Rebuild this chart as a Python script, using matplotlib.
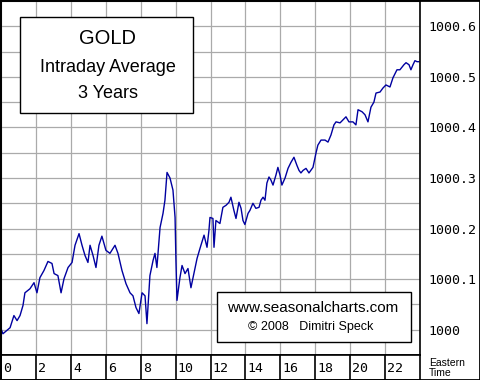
import matplotlib
matplotlib.use('Agg')
import matplotlib.pyplot as plt
from matplotlib.patches import Rectangle

# Gold, average intraday course over 3 years (Eastern Time)
hours = [0.00, 0.11, 0.52, 0.74, 0.92, 1.09, 1.26, 1.37, 1.66, 1.89,
         2.06, 2.23, 2.46, 2.69, 2.92, 3.04, 3.26, 3.44, 3.61, 3.84,
         4.07, 4.24, 4.47, 4.64, 4.81, 4.98, 5.10, 5.27, 5.44, 5.61,
         5.78, 6.01, 6.24, 6.53, 6.70, 6.93, 7.16, 7.39, 7.56, 7.73,
         7.90, 8.08, 8.25, 8.36, 8.53, 8.71, 8.82, 8.93, 9.11, 9.28,
         9.39, 9.51, 9.68, 9.85, 9.97, 10.02, 10.08, 10.25, 10.37, 10.54,
         10.71, 10.88, 11.05, 11.23, 11.40, 11.63, 11.80, 11.91, 11.97, 12.14,
         12.20, 12.31, 12.54, 12.71, 12.89, 13.06, 13.17, 13.34, 13.46, 13.63,
         13.75, 13.86, 13.97, 14.15, 14.26, 14.43, 14.60, 14.78, 14.89, 15.01,
         15.12, 15.23, 15.35, 15.46, 15.58, 15.75, 15.86, 15.98, 16.09, 16.27,
         16.44, 16.61, 16.78, 16.95, 17.07, 17.18, 17.30, 17.47, 17.64, 17.87,
         18.04, 18.15, 18.33, 18.56, 18.73, 18.90, 19.07, 19.19, 19.42, 19.59,
         19.76, 19.93, 20.16, 20.33, 20.45, 20.68, 20.85, 21.02, 21.19, 21.36,
         21.48, 21.71, 21.88, 22.05, 22.28, 22.45, 22.68, 22.85, 23.08, 23.20,
         23.37, 23.48, 23.60, 23.71, 23.83, 23.94]

gold = [1000.002, 999.992, 1000.004, 1000.028, 1000.018, 1000.028, 1000.048, 1000.073, 1000.081, 1000.093,
        1000.073, 1000.103, 1000.117, 1000.135, 1000.131, 1000.111, 1000.107, 1000.073, 1000.101, 1000.123,
        1000.133, 1000.167, 1000.190, 1000.167, 1000.147, 1000.133, 1000.167, 1000.147, 1000.123, 1000.167,
        1000.185, 1000.157, 1000.151, 1000.167, 1000.151, 1000.117, 1000.091, 1000.073, 1000.067, 1000.044,
        1000.032, 1000.073, 1000.067, 1000.012, 1000.107, 1000.137, 1000.151, 1000.123, 1000.202, 1000.230,
        1000.256, 1000.311, 1000.300, 1000.276, 1000.222, 1000.137, 1000.058, 1000.103, 1000.127, 1000.111,
        1000.121, 1000.083, 1000.111, 1000.141, 1000.161, 1000.187, 1000.163, 1000.196, 1000.222, 1000.220,
        1000.163, 1000.216, 1000.210, 1000.242, 1000.246, 1000.252, 1000.262, 1000.236, 1000.220, 1000.252,
        1000.240, 1000.216, 1000.208, 1000.230, 1000.236, 1000.250, 1000.240, 1000.242, 1000.256, 1000.262,
        1000.256, 1000.290, 1000.302, 1000.296, 1000.286, 1000.306, 1000.321, 1000.306, 1000.286, 1000.300,
        1000.319, 1000.331, 1000.341, 1000.325, 1000.315, 1000.310, 1000.315, 1000.319, 1000.310, 1000.321,
        1000.349, 1000.365, 1000.375, 1000.375, 1000.371, 1000.385, 1000.405, 1000.411, 1000.409, 1000.415,
        1000.421, 1000.411, 1000.411, 1000.405, 1000.435, 1000.431, 1000.425, 1000.411, 1000.440, 1000.450,
        1000.468, 1000.470, 1000.478, 1000.484, 1000.480, 1000.498, 1000.514, 1000.514, 1000.524, 1000.528,
        1000.524, 1000.514, 1000.524, 1000.532, 1000.530, 1000.530]

y_ticks = [1000.0, 1000.1, 1000.2, 1000.3, 1000.4, 1000.5, 1000.6]
y_labels = ['1000', '1000.1', '1000.2', '1000.3', '1000.4', '1000.5', '1000.6']
x_ticks = [0, 2, 4, 6, 8, 10, 12, 14, 16, 18, 20, 22]

W, H = 480, 380


def fx(px):
    return px / W


def fy(py):
    return 1 - py / H


fig = plt.figure(figsize=(4.8, 3.8), dpi=100)

# main chart area
ax = fig.add_axes([fx(1), fy(355), fx(420) - fx(1), fy(1) - fy(355)])
ax.set_xlim(0, 24)
ax.set_ylim(999.95, 1000.65)
ax.set_xticks(range(0, 25, 2))
ax.set_yticks([999.95 + 0.05 * i for i in range(15)], minor=True)
ax.set_yticks(y_ticks)
ax.set_yticklabels(y_labels, family='DejaVu Sans Mono', fontsize=9.5)
ax.yaxis.tick_right()
ax.tick_params(axis='y', which='both', length=0, pad=6)
ax.tick_params(axis='x', length=0, labelbottom=False)
ax.grid(True, which='both', color='#aaaaaa', linewidth=0.9)
ax.set_axisbelow(True)
for s in ax.spines.values():
    s.set_color('black')
    s.set_linewidth(1.2)

ax.plot(hours, gold, color='#0000a0', linewidth=1.0)

# title box
fig.add_artist(Rectangle((fx(20), fy(113)), fx(193) - fx(20), fy(17) - fy(113),
                         transform=fig.transFigure, fill=True, fc='white',
                         ec='black', lw=1, zorder=5))
fig.text(fx(108), fy(39), 'GOLD', ha='center', va='center', fontsize=14.5,
         family='Liberation Sans', zorder=6)
fig.text(fx(108), fy(67), 'Intraday Average', ha='center', va='center',
         fontsize=13, family='Liberation Sans', zorder=6)
fig.text(fx(108), fy(93), '3 Years', ha='center', va='center',
         fontsize=13, family='Liberation Sans', zorder=6)

# copyright box
fig.add_artist(Rectangle((fx(217), fy(342)), fx(411) - fx(217), fy(292) - fy(342),
                         transform=fig.transFigure, fill=True, fc='white',
                         ec='black', lw=1, zorder=5))
fig.text(fx(313), fy(308), 'www.seasonalcharts.com', ha='center', va='center',
         fontsize=11, family='Liberation Sans', zorder=6)
fig.text(fx(311), fy(327), '\u00a9 2008   Dimitri Speck', ha='center', va='center',
         fontsize=9, family='Liberation Sans', zorder=6)

# time band below the chart
bx = fig.add_axes([fx(1), 0, fx(420) - fx(1), fy(355)])
bx.set_xlim(0, 24)
bx.set_ylim(0, 1)
bx.set_xticks([])
bx.set_yticks([])
for s in bx.spines.values():
    s.set_color('black')
    s.set_linewidth(1.2)
for t in x_ticks:
    bx.axvline(t, color='black', linewidth=1.2)
    bx.text(t + 0.12, 0.45, str(t), ha='left', va='center',
            family='DejaVu Sans Mono', fontsize=9.5)

fig.text(fx(429), fy(363), 'Eastern', ha='left', va='center', fontsize=7.5,
         family='Liberation Sans')
fig.text(fx(429), fy(373), 'Time', ha='left', va='center', fontsize=7.5,
         family='Liberation Sans')

# outer frame
fig.add_artist(Rectangle((0, 0), 1, 1, transform=fig.transFigure, fill=False,
                         ec='black', lw=2))

plt.savefig('out.png', dpi=100)
